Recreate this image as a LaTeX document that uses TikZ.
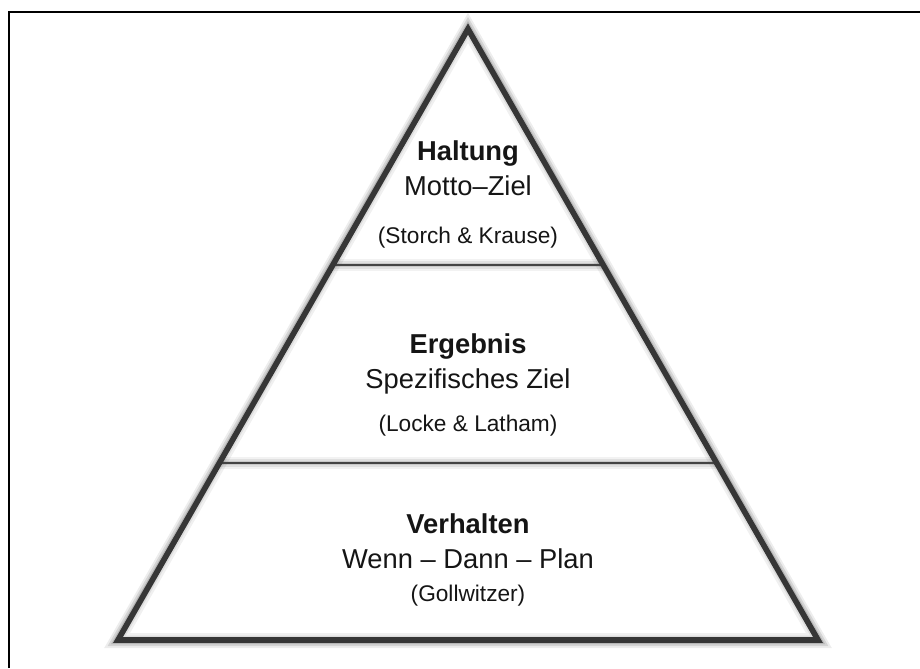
\documentclass[tikz,border=0pt]{standalone}
\usepackage{fontspec}
\setmainfont{Liberation Sans}
\usetikzlibrary{calc}
\definecolor{tridark}{HTML}{363636}
\definecolor{divdark}{HTML}{444444}
\definecolor{txt}{HTML}{151515}
\begin{document}
\begin{tikzpicture}[x=0.75pt,y=-0.75pt,
  tri/.style={draw=tridark, line width=4.2pt, line join=miter},
  divider/.style={draw=divdark, line width=1.6pt},
  shadowline/.style={draw=black, line join=miter},
  title/.style={font=\bfseries\fontsize{20.5}{24}\selectfont, anchor=base, text=txt, inner sep=0pt},
  sub/.style={font=\fontsize{20.5}{24}\selectfont, anchor=base, text=txt, inner sep=0pt},
  cite/.style={font=\fontsize{17}{20}\selectfont, anchor=base, text=txt, inner sep=0pt}]
\useasboundingbox (0,0) rectangle (920,668);
\fill[white] (0,0) rectangle (920,668);
\draw[line width=1pt] (9,668) -- (9,12) -- (920,12);
\coordinate (A) at (468,29);
\coordinate (L) at (118,640);
\coordinate (R) at (818,640);
% shadow of the triangle
\foreach \w/\o in {16/0.07, 12/0.1, 8/0.14, 5/0.2} {
  \draw[shadowline, line width=\w*0.75pt, opacity=\o, shift={(5,7)}] (A) -- (L) -- (R) -- cycle;
}
% divider points
\coordinate (P1) at ($(A)!0.386!(L)$);
\coordinate (Q1) at ($(A)!0.386!(R)$);
\coordinate (P2) at ($(A)!0.710!(L)$);
\coordinate (Q2) at ($(A)!0.710!(R)$);
\fill[white] (A) -- (L) -- (R) -- cycle;
\begin{scope}
  \clip (A) -- (L) -- (R) -- cycle;
  \foreach \w/\o in {12/0.05, 8/0.07, 4/0.1} {
    \draw[shadowline, line width=\w*0.75pt, opacity=\o, shift={(3,8)}] (P1) -- (Q1);
    \draw[shadowline, line width=\w*0.75pt, opacity=\o, shift={(3,8)}] (P2) -- (Q2);
  }
  \foreach \w/\o in {14/0.06, 9/0.08, 5/0.1} {
    \draw[shadowline, line width=\w*0.75pt, opacity=\o, shift={(5,7)}] (A) -- (L) -- (R) -- cycle;
  }
\end{scope}
\draw[divider] (P1) -- (Q1);
\draw[divider] (P2) -- (Q2);
\draw[tri] (A) -- (L) -- (R) -- cycle;
% texts
\node[title] (haltung) at (468,160) {Haltung};
\node[sub] (motto) at (468,195) {Motto–Ziel};
\node[cite] (storch) at (468,243) {(Storch \& Krause)};
\node[title] (ergebnis) at (468,353) {Ergebnis};
\node[sub] (spez) at (468,388) {Spezifisches Ziel};
\node[cite] (locke) at (468,431) {(Locke \& Latham)};
\node[title] (verhalten) at (468,533) {Verhalten};
\node[sub] (wenn) at (468,568) {Wenn – Dann – Plan};
\node[cite] (goll) at (468,601) {(Gollwitzer)};
\end{tikzpicture}
\end{document}
